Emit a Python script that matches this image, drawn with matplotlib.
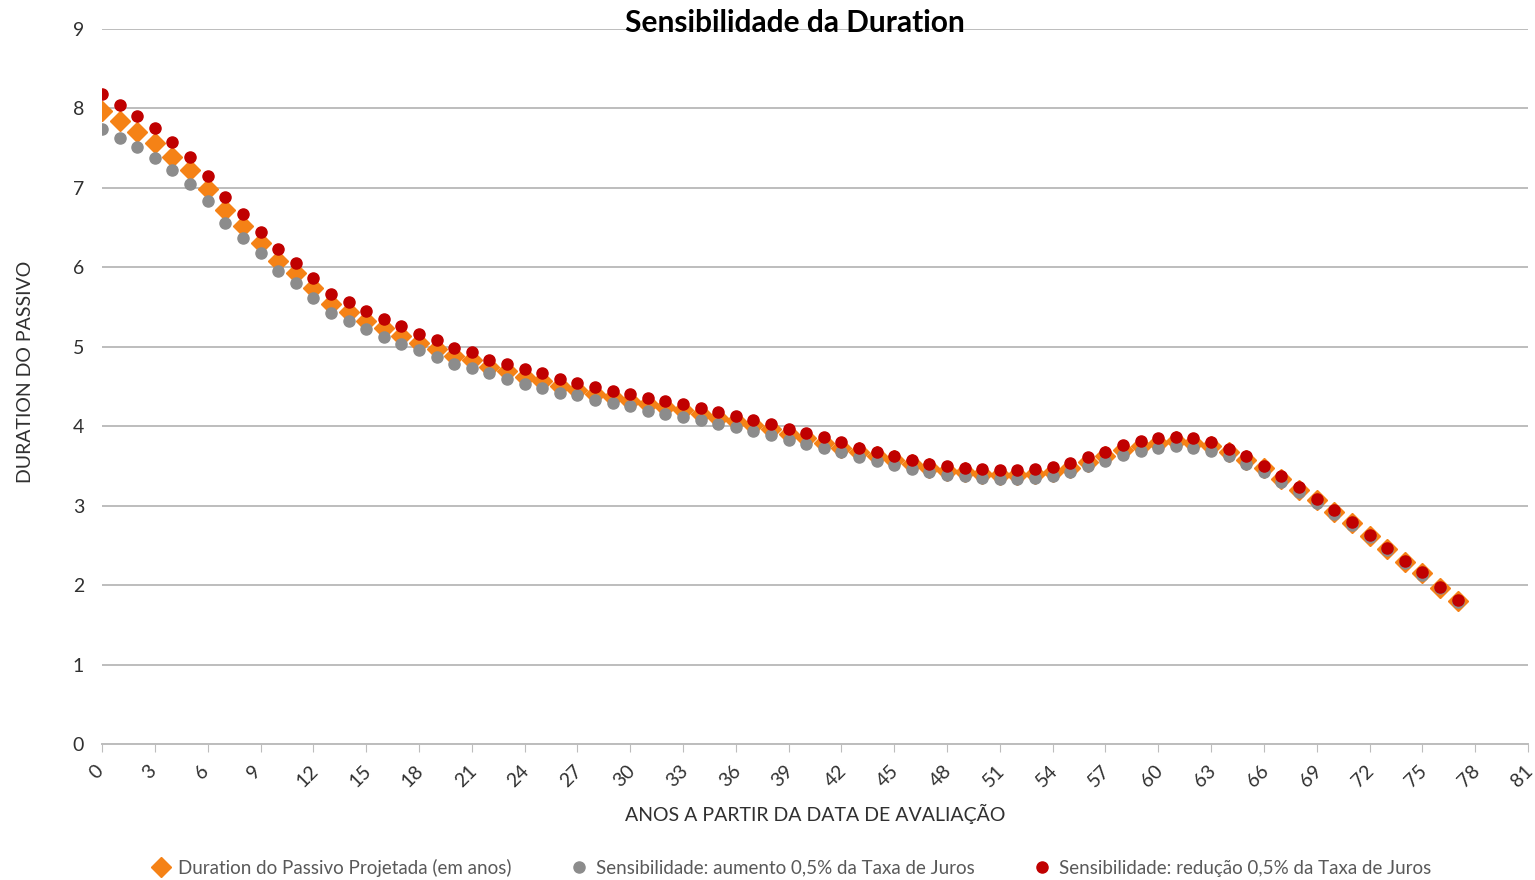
import numpy as np
import matplotlib
matplotlib.use('Agg')
import matplotlib.pyplot as plt
import matplotlib.transforms as mtransforms
from matplotlib.lines import Line2D

# Years from the valuation date
anos = np.arange(0, 78)

# Projected liability duration (years)
duration_base = [7.97, 7.84, 7.71, 7.57, 7.39, 7.22, 6.99, 6.72, 6.52, 6.31,
                 6.08, 5.93, 5.74, 5.54, 5.44, 5.33, 5.24, 5.14, 5.05, 4.97,
                 4.89, 4.83, 4.75, 4.69, 4.62, 4.57, 4.51, 4.46, 4.41, 4.37,
                 4.32, 4.28, 4.24, 4.20, 4.15, 4.10, 4.06, 4.01, 3.96, 3.90,
                 3.85, 3.79, 3.73, 3.67, 3.62, 3.57, 3.52, 3.47, 3.44, 3.42,
                 3.40, 3.39, 3.39, 3.40, 3.43, 3.48, 3.55, 3.62, 3.70, 3.75,
                 3.79, 3.81, 3.79, 3.75, 3.68, 3.58, 3.47, 3.34, 3.20, 3.07,
                 2.92, 2.78, 2.62, 2.46, 2.29, 2.15, 1.97, 1.80]

# Sensitivity: +0.5% interest rate
duration_aumento = [7.74, 7.63, 7.52, 7.38, 7.23, 7.05, 6.84, 6.56, 6.37, 6.18,
                    5.95, 5.80, 5.62, 5.43, 5.33, 5.22, 5.12, 5.03, 4.96, 4.87,
                    4.79, 4.73, 4.67, 4.59, 4.53, 4.48, 4.42, 4.39, 4.33, 4.29,
                    4.25, 4.19, 4.16, 4.12, 4.08, 4.03, 3.99, 3.94, 3.89, 3.83,
                    3.78, 3.73, 3.67, 3.61, 3.56, 3.51, 3.46, 3.42, 3.39, 3.37,
                    3.35, 3.34, 3.34, 3.35, 3.38, 3.43, 3.50, 3.56, 3.64, 3.69,
                    3.73, 3.75, 3.73, 3.69, 3.63, 3.53, 3.43, 3.30, 3.17, 3.04,
                    2.90, 2.76, 2.60, 2.44, 2.28, 2.13, 1.96, 1.79]

# Sensitivity: -0.5% interest rate
duration_reducao = [8.18, 8.04, 7.90, 7.76, 7.58, 7.39, 7.15, 6.88, 6.67, 6.44,
                    6.23, 6.05, 5.86, 5.67, 5.56, 5.45, 5.35, 5.26, 5.16, 5.08,
                    4.99, 4.93, 4.84, 4.78, 4.72, 4.67, 4.60, 4.55, 4.50, 4.44,
                    4.40, 4.36, 4.32, 4.28, 4.23, 4.18, 4.13, 4.08, 4.03, 3.96,
                    3.92, 3.86, 3.80, 3.73, 3.68, 3.63, 3.58, 3.53, 3.50, 3.48,
                    3.46, 3.45, 3.45, 3.46, 3.49, 3.54, 3.61, 3.68, 3.76, 3.81,
                    3.85, 3.87, 3.85, 3.80, 3.72, 3.62, 3.50, 3.37, 3.23, 3.09,
                    2.94, 2.80, 2.63, 2.47, 2.30, 2.16, 1.98, 1.81]

labels = ['Duration do Passivo Projetada (em anos)',
          'Sensibilidade: aumento 0,5% da Taxa de Juros',
          'Sensibilidade: redução 0,5% da Taxa de Juros']

plt.rcParams['font.family'] = ['Lato', 'DejaVu Sans']

c_base = '#F58216'
c_up = '#8C8C8C'
c_down = '#C00000'
c_text = '#303030'

fig = plt.figure(figsize=(15.35, 8.8), dpi=100)
ax = fig.add_axes([0.0665, 0.1545, 0.9289, 0.8125])

ax.plot(anos, duration_base, 'D', color=c_base, markersize=10, zorder=3)
ax.plot(anos, duration_aumento, 'o', color=c_up, markersize=8, zorder=4)
ax.plot(anos, duration_reducao, 'o', color=c_down, markersize=8, zorder=5)

ax.set_xlim(0, 81)
ax.set_ylim(0, 9)
ax.set_yticks(range(0, 10))
ax.set_xticks(range(0, 82, 3))
ax.yaxis.grid(True, color='#BDBDBD', linewidth=1.4)
ax.set_axisbelow(True)

for s in ['top', 'right', 'left']:
    ax.spines[s].set_visible(False)
ax.spines['bottom'].set_color('#BDBDBD')
ax.spines['bottom'].set_linewidth(1.4)

ax.tick_params(axis='y', length=0, labelsize=14, labelcolor=c_text, pad=13)
ax.tick_params(axis='x', length=6, color='#BDBDBD', labelsize=14,
               labelcolor=c_text, pad=7)
shift = mtransforms.ScaledTranslation(-6 / 100, 0, fig.dpi_scale_trans)
for lbl in ax.get_xticklabels():
    lbl.set_rotation(45)
    lbl.set_ha('center')
    lbl.set_transform(lbl.get_transform() + shift)

ax.set_ylabel('DURATION DO PASSIVO', fontsize=14, color=c_text)
ax.yaxis.set_label_coords(-0.048, 0.52)
ax.set_xlabel('ANOS A PARTIR DA DATA DE AVALIAÇÃO', fontsize=14,
              color=c_text, labelpad=10)

fig.text(0.518, 0.974, 'Sensibilidade da Duration', ha='center', va='center',
         fontsize=21.5, fontweight='bold', color='black')

handles = [Line2D([], [], marker='D', ls='', color=c_base, markersize=10),
           Line2D([], [], marker='o', ls='', color=c_up, markersize=8),
           Line2D([], [], marker='o', ls='', color=c_down, markersize=8)]
leg = fig.legend(handles, labels, loc='center', ncol=3, frameon=False,
                 bbox_to_anchor=(0.515, 0.014), fontsize=13.5,
                 handletextpad=0.3, columnspacing=3.0, handlelength=1.2)
for t in leg.get_texts():
    t.set_color('#595959')

fig.savefig('out.png', dpi=100)
